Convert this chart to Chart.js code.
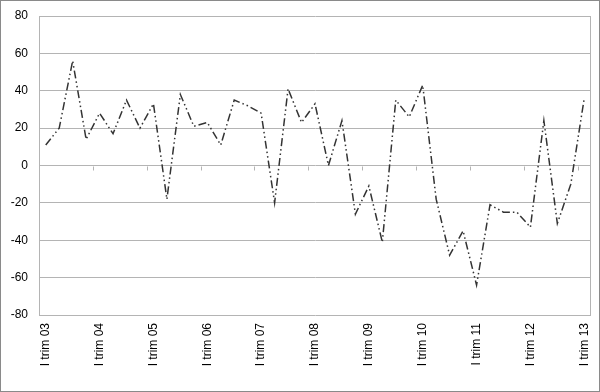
<!DOCTYPE html>
<html>
<head>
<meta charset="utf-8">
<script src="https://cdn.jsdelivr.net/npm/chart.js@4.4.1/dist/chart.umd.min.js"></script>
<style>
    html, body { margin: 0; padding: 0; background: #fff; }
    #wrap { width: 600px; height: 392px; position: relative; }
</style>
</head>
<body>
<div id="wrap"><canvas id="myChart" width="600" height="392"></canvas></div>
<script>
// quarters from I trim 03 to I trim 13
const years = ['03', '04', '05', '06', '07', '08', '09', '10', '11', '12', '13'];
const quarters = ['I', 'II', 'III', 'IV'];
const labels = [];
years.forEach((y, i) => {
    quarters.forEach((q, j) => {
        if (i < years.length - 1 || j === 0) labels.push(q + ' trim ' + y);
    });
});

const values = [
    11, 20, 56, 14, 28, 17, 35, 20, 33, -18,
    38, 21, 23, 11, 35, 32, 28, -20, 41, 23,
    33, 0, 24, -26, -11, -41, 35, 26, 43, -18,
    -48, -35, -64, -21, -25, -25, -33, 24, -31, -10,
    36
];

const yTicks = [-80, -60, -40, -20, 0, 20, 40, 60, 80];

const gridColor = '#b4b4b4';

// frame, right border of plot and small tick marks on the zero line
const framePlugin = {
    id: 'frame',
    beforeDatasetsDraw(chart) {
        const { ctx, chartArea, scales } = chart;
        const x = scales.x;
        const y0 = Math.round(scales.y.getPixelForValue(0)) + 0.5;
        ctx.save();
        ctx.strokeStyle = gridColor;
        ctx.lineWidth = 1;
        ctx.beginPath();
        ctx.moveTo(Math.round(chartArea.right) - 0.5, chartArea.top);
        ctx.lineTo(Math.round(chartArea.right) - 0.5, chartArea.bottom);
        const step = (chartArea.right - chartArea.left) / labels.length;
        for (let i = 4; i < labels.length; i += 4) {
            const px = Math.round(x.getPixelForValue(i) - step / 2) + 0.5;
            ctx.moveTo(px, y0);
            ctx.lineTo(px, y0 + 4);
        }
        ctx.stroke();
        ctx.restore();
    },
    afterDraw(chart) {
        const { ctx, width, height } = chart;
        ctx.save();
        ctx.strokeStyle = '#8a8a8a';
        ctx.lineWidth = 1;
        ctx.strokeRect(0.5, 0.5, width - 1, height - 1);
        ctx.restore();
    }
};

const ctx = document.getElementById('myChart').getContext('2d');
const myChart = new Chart(ctx, {
    type: 'line',
    data: {
        labels: labels,
        datasets: [
            {
                data: values,
                borderColor: '#333333',
                borderWidth: 1.5,
                borderDash: [8, 3, 1.5, 3, 1.5, 3],
                pointRadius: 0,
                tension: 0,
                fill: false,
            },
        ],
    },
    options: {
        responsive: false,
        animation: false,
        events: [],
        layout: {
            padding: { left: 0, right: 9, top: 16, bottom: 0 },
        },
        plugins: {
            legend: { display: false },
            tooltip: { enabled: false },
        },
        scales: {
            x: {
                type: 'category',
                offset: true,
                grid: { display: false, drawTicks: false },
                border: { display: false },
                ticks: {
                    autoSkip: false,
                    maxRotation: 90,
                    minRotation: 90,
                    padding: 8,
                    color: '#000',
                    font: { family: 'Liberation Sans', size: 12 },
                    callback: function (val, i) {
                        return i % 4 === 0 ? labels[i] : '';
                    },
                },
                afterFit: function (scale) {
                    scale.height = 77;
                    scale.paddingLeft = 0;
                    scale.paddingRight = 0;
                },
            },
            y: {
                min: -80,
                max: 80,
                afterBuildTicks: function (scale) {
                    scale.ticks = yTicks.map(v => ({ value: v }));
                },
                grid: { color: gridColor, drawTicks: false },
                border: { display: true, color: gridColor },
                ticks: {
                    padding: 11,
                    color: '#000',
                    font: { family: 'Liberation Sans', size: 12 },
                },
                afterFit: function (scale) {
                    scale.width = 39;
                    scale.paddingTop = 0;
                    scale.paddingBottom = 0;
                },
            },
        },
    },
    plugins: [framePlugin],
});
</script>
</body>
</html>
